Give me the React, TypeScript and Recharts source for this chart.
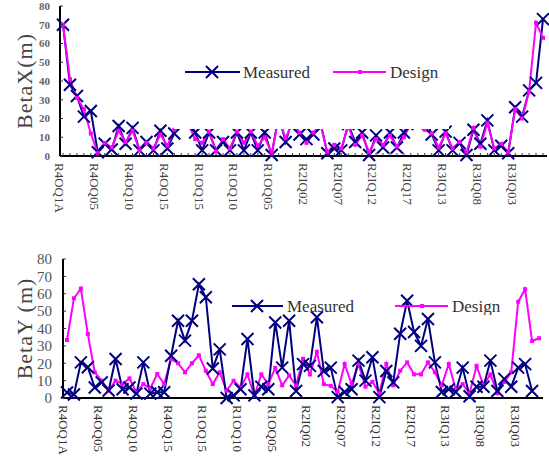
import React from "react";
import { LineChart, Line, XAxis, YAxis, Legend } from "recharts";

const categories = [
    "R4OQ1A", "R4OQ1B", "R4OQ02", "R4OQ03", "R4OQ04",
    "R4OQ05", "R4OQ06", "R4OQ07", "R4OQ08", "R4OQ09",
    "R4OQ10", "R4OQ11", "R4OQ12", "R4OQ13", "R4OQ14",
    "R4OQ15", "R4OQ16", "R4OQ17", "R1OQ17", "R1OQ16",
    "R1OQ15", "R1OQ14", "R1OQ13", "R1OQ12", "R1OQ11",
    "R1OQ10", "R1OQ09", "R1OQ08", "R1OQ07", "R1OQ06",
    "R1OQ05", "R1OQ04", "R1OQ03", "R1OQ02", "R2IQ01",
    "R2IQ02", "R2IQ03", "R2IQ04", "R2IQ05", "R2IQ06",
    "R2IQ07", "R2IQ08", "R2IQ09", "R2IQ10", "R2IQ11",
    "R2IQ12", "R2IQ13", "R2IQ14", "R2IQ15", "R2IQ16",
    "R2IQ17", "R2IQ18", "R3IQ16", "R3IQ15", "R3IQ14",
    "R3IQ13", "R3IQ12", "R3IQ11", "R3IQ10", "R3IQ09",
    "R3IQ08", "R3IQ07", "R3IQ06", "R3IQ05", "R3IQ04",
    "R3IQ03", "R3IQ02", "R3IQ01", "R3IQ1B", "R3IQ1A"
];

// BetaX (m)
const betaXMeasured = [
    70, 38, 32, 21, 24, 2, 6.5, 3.5, 16, 6.5,
    15, 3, 7.5, 3, 13.5, 4, 12, 24, 20, 12.5,
    3, 12.5, 3, 7.5, 3, 12.5, 3, 12.5, 3, 12.5,
    0.5, 22, 7.5, 20, 11.5, 9, 11.5, 18, 1.5, 4,
    3, 17, 7.5, 12.5, 0.5, 11, 4.5, 12.5, 4.5, 12.5,
    20, 17, 21, 11.5, 3, 13, 3, 7, 0.5, 14,
    6.5, 19, 3, 5.5, 1.5, 26, 21, 35, 39, 73
];
const betaXDesign = [
    70, 41, 31, 25, 12, 1.5, 7, 4.5, 13.5, 7.5,
    13.5, 3, 7, 4, 11.5, 5.5, 14, 20, 17, 9,
    7, 13, 2.5, 9, 4, 13, 7, 13, 5.5, 10,
    1.5, 20, 9.5, 18, 12.5, 7, 12.5, 17, 2, 6,
    4, 16, 6, 11, 2, 9, 6, 11, 5, 10,
    17, 18, 14, 12, 4.5, 12, 4, 7.5, 2, 15,
    5, 17.5, 4, 6.5, 1.8, 25, 20, 34.5, 71, 63
];

// BetaY (m)
const betaYMeasured = [
    3.2, 2, 20.5, 17.7, 6, 9, 4.3, 22.4, 5, 6,
    2.5, 20.5, 2.5, 3.3, 3.3, 24.3, 44.5, 33, 44.5, 65.5,
    58, 17, 28, 0, 1.5, 5, 34, 1.5, 6.5, 5,
    43.5, 17.5, 44.5, 4, 19.5, 18.5, 46.5, 15.5, 17.5, 0.5,
    3.5, 5, 21.5, 10, 23.5, 0.5, 15.5, 9, 37, 56,
    38, 30, 45.5, 20.5, 3.5, 5, 3.5, 17.5, 1, 6.5,
    6.5, 21.5, 4, 11, 6.5, 17.5, 19.5, 4, null
];
const betaYDesign = [
    33.4, 57.4, 63, 36.8, 14.8, 10, 4.3, 10, 8, 11.3,
    3.2, 8, 5.5, 13.8, 8, 22.4, 20, 14.8, 20, 24.6,
    15.7, 8, 14.8, 4.2, 9.9, 6, 13.6, 1.3, 13.6, 8,
    17.3, 7.3, 13, 7.3, 22.5, 13.6, 26.5, 8, 7, 3.5,
    19.6, 8, 19.6, 6.5, 9.3, 2.7, 19.6, 7.3, 15.7, 20.5,
    13.6, 13.6, 20.5, 14.8, 7.3, 19.6, 5, 8, 2.7, 18.4,
    7.3, 13.6, 2.7, 9.3, 14.8, 55.4, 62.6, 32.8, 34.4
];

const yTicks = [0, 10, 20, 30, 40, 50, 60, 70, 80];

const NAVY = "#000080";
const MAGENTA = "#ff00ff";
const SERIF = "'Liberation Serif', 'Times New Roman', serif";

const topData = categories.map((name, i) => ({ name, measured: betaXMeasured[i], design: betaXDesign[i] }));
const bottomData = categories
    .slice(0, betaYDesign.length)
    .map((name, i) => ({ name, measured: betaYMeasured[i], design: betaYDesign[i] }));

const XMark = (props: any) => {
    const { cx, cy, size = 6 } = props;
    if (cx == null || cy == null || isNaN(cy)) return null;
    const s = size;
    return (
        <path
            d={`M${cx - s},${cy - s}L${cx + s},${cy + s}M${cx - s},${cy + s}L${cx + s},${cy - s}`}
            stroke={NAVY}
            strokeWidth={2}
            fill="none"
        />
    );
};

const SquareDot = (props: any) => {
    const { cx, cy } = props;
    if (cx == null || cy == null || isNaN(cy)) return null;
    return <rect x={cx - 2} y={cy - 2} width={4} height={4} fill={MAGENTA} />;
};

const makeXTick = (color: string, marks: boolean) => (props: any) => {
    const { x, y, payload, index } = props;
    const tx = x - 3;
    const ty = y + 7;
    return (
        <g>
            {marks && <line x1={x} x2={x} y1={y} y2={y - 3} stroke="#333" strokeWidth={1} />}
            {index % 5 === 0 && (
                <text
                    x={tx}
                    y={ty}
                    dy="0.35em"
                    transform={`rotate(90 ${tx} ${ty})`}
                    textAnchor="start"
                    fill={color}
                    fontSize={13}
                    fontFamily={SERIF}
                >
                    {payload.value}
                </text>
            )}
        </g>
    );
};

const makeYTick = (fontSize: number, color: string, bold: boolean, gap: number) => (props: any) => {
    const { x, y, payload } = props;
    return (
        <g>
            <line x1={x} x2={x + 3} y1={y} y2={y} stroke="#333" strokeWidth={1} />
            <text
                x={x - gap}
                y={y}
                dy="0.35em"
                textAnchor="end"
                fill={color}
                fontSize={fontSize}
                fontWeight={bold ? "bold" : "normal"}
                fontFamily={SERIF}
            >
                {payload.value}
            </text>
        </g>
    );
};

const makeTitle = (text: string, xPos: number) => (props: any) => {
    const vb = props.viewBox || {};
    const cy = (vb.y ?? 0) + (vb.height ?? 0) / 2;
    return (
        <text
            x={xPos}
            y={cy}
            dy="0.35em"
            transform={`rotate(-90 ${xPos} ${cy})`}
            textAnchor="middle"
            fill="#444"
            fontSize={22}
            fontFamily={SERIF}
            letterSpacing={1}
        >
            {text}
        </text>
    );
};

const legendText = { fontFamily: SERIF, fontSize: 17, fill: "#333" };

const TopLegend = () => (
    <svg width={275} height={99} style={{ display: "block" }}>
        <line x1={11} x2={66} y1={42} y2={42} stroke={NAVY} strokeWidth={2} />
        <XMark cx={38} cy={42} size={6} />
        <text x={69} y={42} dy="0.35em" {...legendText}>Measured</text>
        <line x1={159} x2={212} y1={42} y2={42} stroke={MAGENTA} strokeWidth={2} />
        <rect x={184} y={40} width={4} height={4} fill={MAGENTA} />
        <text x={216} y={42} dy="0.35em" {...legendText}>Design</text>
    </svg>
);

const BottomLegend = () => (
    <svg width={311} height={60} style={{ display: "block" }}>
        <rect x={0} y={0} width={311} height={8} fill="#fff" />
        <line x1={25} x2={76} y1={51} y2={51} stroke={NAVY} strokeWidth={2} />
        <XMark cx={50} cy={51} size={6} />
        <text x={80} y={51} dy="0.35em" {...legendText}>Measured</text>
        <line x1={188} x2={241} y1={51} y2={51} stroke={MAGENTA} strokeWidth={2} />
        <rect x={213} y={49} width={4} height={4} fill={MAGENTA} />
        <text x={245} y={51} dy="0.35em" {...legendText}>Design</text>
    </svg>
);

const frame = { stroke: "#000", strokeWidth: 2 };

export default function App() {
    return (
        <div style={{ position: "absolute", left: 0, top: 0, width: 549, height: 460, background: "#fff" }}>
            <div style={{ position: "absolute", left: 0, top: 0 }}>
                <LineChart width={549} height={230} data={topData} margin={{ top: 6, right: 2, bottom: 0, left: 0 }}>
                    <XAxis
                        dataKey="name"
                        height={74}
                        interval={0}
                        padding={{ left: 3, right: 4 }}
                        tickSize={0}
                        tickMargin={0}
                        tickLine={false}
                        axisLine={frame}
                        tick={makeXTick("#444", true)}
                    />
                    <XAxis xAxisId="frame" dataKey="name" orientation="top" height={0} tick={false} tickLine={false} axisLine={frame} />
                    <YAxis
                        width={60}
                        domain={[0, 80]}
                        ticks={yTicks}
                        interval={0}
                        tickSize={0}
                        tickMargin={0}
                        tickLine={false}
                        axisLine={frame}
                        tick={makeYTick(11, "#666", true, 10)}
                        label={makeTitle("BetaX(m)", 24)}
                    />
                    <YAxis yAxisId="frame" orientation="right" width={0} tick={false} tickLine={false} axisLine={frame} />
                    <Line
                        dataKey="measured"
                        stroke={NAVY}
                        strokeWidth={2}
                        dot={<XMark size={6} />}
                        activeDot={false}
                        isAnimationActive={false}
                    />
                    <Line
                        dataKey="design"
                        stroke={MAGENTA}
                        strokeWidth={2}
                        dot={<SquareDot />}
                        activeDot={false}
                        isAnimationActive={false}
                    />
                    <Legend
                        verticalAlign="middle"
                        align="center"
                        layout="horizontal"
                        wrapperStyle={{ left: 174, top: 30, width: 275, height: 99, background: "#fff" }}
                        content={() => <TopLegend />}
                    />
                </LineChart>
            </div>
            <div style={{ position: "absolute", left: 0, top: 230 }}>
                <LineChart width={549} height={230} data={bottomData} margin={{ top: 29, right: 6, bottom: 0, left: 0 }}>
                    <XAxis
                        dataKey="name"
                        height={62}
                        interval={0}
                        padding={{ left: 4, right: 4 }}
                        tickSize={0}
                        tickMargin={0}
                        tickLine={false}
                        axisLine={frame}
                        tick={makeXTick("#333", false)}
                    />
                    <XAxis xAxisId="frame" dataKey="name" orientation="top" height={0} tick={false} tickLine={false} axisLine={frame} />
                    <YAxis
                        width={63}
                        domain={[0, 80]}
                        ticks={yTicks}
                        interval={0}
                        tickSize={0}
                        tickMargin={0}
                        tickLine={false}
                        axisLine={frame}
                        tick={makeYTick(15, "#555", false, 11)}
                        label={makeTitle("BetaY (m)", 24)}
                    />
                    <YAxis yAxisId="frame" orientation="right" width={0} tick={false} tickLine={false} axisLine={frame} />
                    <Line
                        dataKey="design"
                        stroke={MAGENTA}
                        strokeWidth={2}
                        dot={<SquareDot />}
                        activeDot={false}
                        isAnimationActive={false}
                    />
                    <Line
                        dataKey="measured"
                        stroke={NAVY}
                        strokeWidth={2}
                        dot={<XMark size={6} />}
                        activeDot={false}
                        isAnimationActive={false}
                    />
                    <Legend
                        verticalAlign="middle"
                        align="center"
                        layout="horizontal"
                        wrapperStyle={{ left: 207, top: 25, width: 311, height: 60 }}
                        content={() => <BottomLegend />}
                    />
                </LineChart>
            </div>
        </div>
    );
}
